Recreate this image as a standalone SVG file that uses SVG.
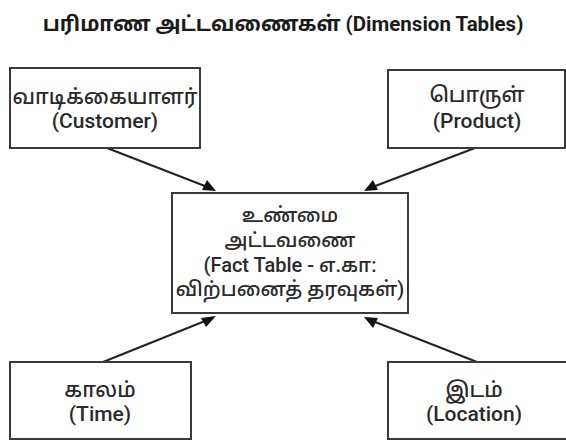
<svg xmlns="http://www.w3.org/2000/svg" width="566" height="441" viewBox="0 0 566 441">
<style>
.box{fill:#fff;stroke:#3a3a3a;stroke-width:2}
.t{font-family:Roboto,"Noto Sans","Noto Sans Tamil",sans-serif;font-size:21px;font-weight:500;fill:#2a2a2a;text-anchor:middle}
.f{font-size:20px}
.title{font-family:Roboto,"Noto Sans","Noto Sans Tamil",sans-serif;font-size:20.5px;font-weight:bold;fill:#1a1a1a;text-anchor:middle}
.c{stroke:#222;stroke-width:2;fill:none}
.ah{fill:#111}
</style>
<rect width="566" height="441" fill="#fff"/>
<text class="title" x="283" y="31">பரிமாண அட்டவணைகள் (Dimension Tables)</text>
<g id="connectors">
<line class="c" x1="107" y1="148" x2="210" y2="188"/>
<polygon class="ah" points="216,191 202,190 207,180"/>
<line class="c" x1="475" y1="148" x2="370" y2="188"/>
<polygon class="ah" points="364,191 373,180 378,190"/>
<line class="c" x1="103" y1="362" x2="210" y2="319"/>
<polygon class="ah" points="216,316 206,327 201,318"/>
<line class="c" x1="477" y1="362" x2="370" y2="320"/>
<polygon class="ah" points="364,317 378,318 373,328"/>
</g>
<g id="customer">
<rect class="box" x="10" y="68" width="190" height="80"/>
<text class="t" x="105" y="104">வாடிக்கையாளர்</text>
<text class="t" x="105" y="128">(Customer)</text>
</g>
<g id="product">
<rect class="box" x="388" y="70" width="177" height="78"/>
<text class="t" x="477" y="102">பொருள்</text>
<text class="t" x="477" y="128">(Product)</text>
</g>
<g id="fact">
<rect class="box" x="172" y="193" width="236" height="120"/>
<text class="t f" x="290" y="222">உண்மை</text>
<text class="t f" x="290" y="247">அட்டவணை</text>
<text class="t f" x="290" y="272">(Fact Table - எ.கா:</text>
<text class="t f" x="290" y="296">விற்பனைத் தரவுகள்)</text>
</g>
<g id="time">
<rect class="box" x="10" y="362" width="181" height="77"/>
<text class="t" x="100" y="397">காலம்</text>
<text class="t" x="100" y="421">(Time)</text>
</g>
<g id="location">
<rect class="box" x="388" y="362" width="190" height="77"/>
<text class="t" x="474" y="397">இடம்</text>
<text class="t" x="474" y="421">(Location)</text>
</g>
</svg>
